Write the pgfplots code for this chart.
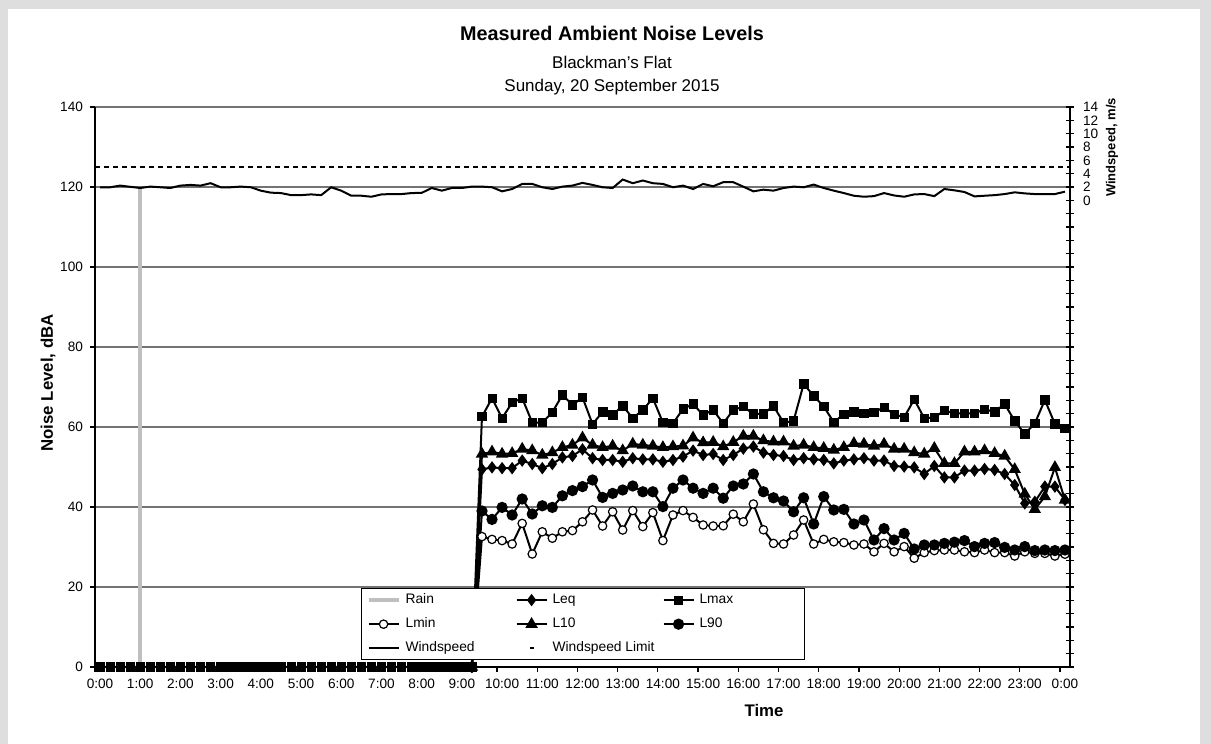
\documentclass[border=0pt]{standalone}
\usepackage{pgfplots}
\pgfplotsset{compat=1.18}
\usepackage{pgfplotstable}
\usepackage{fontspec}
\setmainfont{Liberation Sans}

\pgfplotstableread{
h Lmax L10 Leq L90 Lmin
0 0 0 0 0 0
0.25 0 0 0 0 0
0.5 0 0 0 0 0
0.75 0 0 0 0 0
1 0 0 0 0 0
1.25 0 0 0 0 0
1.5 0 0 0 0 0
1.75 0 0 0 0 0
2 0 0 0 0 0
2.25 0 0 0 0 0
2.5 0 0 0 0 0
2.75 0 0 0 0 0
3 0 0 0 0 0
3.25 0 0 0 0 0
3.5 0 0 0 0 0
3.75 0 0 0 0 0
4 0 0 0 0 0
4.25 0 0 0 0 0
4.5 0 0 0 0 0
4.75 0 0 0 0 0
5 0 0 0 0 0
5.25 0 0 0 0 0
5.5 0 0 0 0 0
5.75 0 0 0 0 0
6 0 0 0 0 0
6.25 0 0 0 0 0
6.5 0 0 0 0 0
6.75 0 0 0 0 0
7 0 0 0 0 0
7.25 0 0 0 0 0
7.5 0 0 0 0 0
7.75 0 0 0 0 0
8 0 0 0 0 0
8.25 0 0 0 0 0
8.5 0 0 0 0 0
8.75 0 0 0 0 0
9 0 0 0 0 0
9.25 0 0 0 0 0
9.5 62.6 53.25 49.4 39.0 32.6
9.75 67.2 53.8 49.9 36.9 31.9
10.0 62.2 53.25 49.7 39.9 31.6
10.25 66.1 53.4 49.7 38.0 30.75
10.5 67.2 54.5 51.6 42.0 35.9
10.75 61.1 54.1 50.75 38.25 28.25
11.0 61.1 53.0 49.7 40.3 33.8
11.25 63.7 53.6 50.75 39.9 32.2
11.5 68.0 54.9 52.4 42.8 33.8
11.75 65.5 55.5 52.75 44.1 34.1
12.0 67.4 57.3 54.4 45.1 36.3
12.25 60.7 55.5 52.2 46.75 39.25
12.5 63.8 54.9 51.75 42.4 35.25
12.75 63.0 55.25 51.75 43.4 38.8
13.0 65.3 54.1 51.3 44.25 34.25
13.25 62.2 55.75 52.2 45.25 39.1
13.5 64.25 55.5 51.9 43.8 35.1
13.75 67.2 55.25 51.9 43.8 38.6
14.0 61.1 54.9 51.3 40.1 31.6
14.25 60.9 55.1 51.75 44.7 38.0
14.5 64.5 55.3 52.6 46.75 39.1
14.75 65.75 57.3 54.1 44.7 37.4
15.0 63.0 56.1 53.0 43.4 35.5
15.25 64.25 56.2 53.25 44.7 35.25
15.5 60.9 55.1 51.75 42.2 35.3
15.75 64.25 56.2 53.0 45.25 38.2
16.0 65.1 57.75 54.6 45.75 36.3
16.25 63.25 57.75 55.1 48.25 40.75
16.5 63.3 56.6 53.6 43.8 34.3
16.75 65.25 56.3 53.0 42.3 30.9
17.0 61.1 56.3 52.75 41.5 30.75
17.25 61.5 55.25 51.75 38.8 33.0
17.5 70.75 55.5 52.2 42.3 36.75
17.75 67.8 54.9 51.9 35.75 30.75
18.0 65.1 54.7 51.75 42.6 31.9
18.25 61.2 54.25 50.9 39.25 31.3
18.5 63.2 54.9 51.6 39.4 31.1
18.75 63.8 55.9 51.9 35.75 30.5
19.0 63.4 55.75 52.2 36.75 30.75
19.25 63.7 55.25 51.6 31.75 28.8
19.5 64.9 55.75 51.6 34.6 30.9
19.75 63.2 54.5 50.25 31.75 28.8
20.0 62.4 54.5 50.1 33.4 30.1
20.25 66.9 53.6 49.9 29.5 27.2
20.5 62.2 53.25 48.25 30.5 28.6
20.75 62.4 54.7 50.25 30.5 29.1
21.0 64.1 50.9 47.4 30.9 29.25
21.25 63.4 50.9 47.4 31.2 29.25
21.5 63.4 53.8 49.1 31.6 28.8
21.75 63.4 53.8 49.1 30.1 28.6
22.0 64.4 54.1 49.5 30.9 29.25
22.25 63.8 53.4 49.25 31.1 28.6
22.5 65.75 52.75 48.25 29.9 28.6
22.75 61.5 49.4 45.5 29.25 27.75
23.0 58.25 43.25 40.9 30.1 28.8
23.25 60.9 39.4 41.3 29.1 28.4
23.5 66.75 42.6 45.1 29.25 28.4
23.75 60.75 49.9 45.1 29.1 27.75
24.0 59.7 41.75 41.75 29.25 28.2
}\noise

\pgfplotstableread{
h w
0 1.96
0.25 1.96
0.5 2.21
0.75 2.03
1.0 1.85
1.25 2.06
1.5 1.96
1.75 1.85
2.0 2.21
2.25 2.31
2.5 2.21
2.75 2.57
3.0 1.96
3.25 1.96
3.5 2.06
3.75 1.96
4.0 1.45
4.25 1.15
4.5 1.09
4.75 0.78
5.0 0.78
5.25 0.89
5.5 0.78
5.75 1.96
6.0 1.45
6.25 0.69
6.5 0.69
6.75 0.54
7.0 0.89
7.25 0.94
7.5 0.94
7.75 1.09
8.0 1.12
8.25 1.85
8.5 1.45
8.75 1.85
9.0 1.85
9.25 2.06
9.5 2.06
9.75 1.96
10.0 1.35
10.25 1.70
10.5 2.46
10.75 2.46
11.0 1.96
11.25 1.70
11.5 2.06
11.75 2.21
12.0 2.62
12.25 2.31
12.5 1.96
12.75 1.85
13.0 3.12
13.25 2.57
13.5 2.97
13.75 2.57
14.0 2.46
14.25 1.96
14.5 2.21
14.75 1.70
15.0 2.46
15.25 2.11
15.5 2.72
15.75 2.72
16.0 2.05
16.25 1.35
16.5 1.60
16.75 1.45
17.0 1.85
17.25 2.06
17.5 1.96
17.75 2.36
18.0 1.85
18.25 1.45
18.5 1.09
18.75 0.69
19.0 0.54
19.25 0.63
19.5 1.09
19.75 0.73
20.0 0.54
20.25 0.89
20.5 0.94
20.75 0.63
21.0 1.70
21.25 1.50
21.5 1.25
21.75 0.59
22.0 0.69
22.25 0.78
22.5 0.94
22.75 1.20
23.0 1.04
23.25 0.94
23.5 0.94
23.75 0.94
24.0 1.30
}\wind

\begin{document}
\begin{tikzpicture}
\fill[black!13] (0,0) rectangle (605.5pt,372pt);
\fill[white] (4pt,0) rectangle (600pt,367.5pt);

\node[font=\bfseries\fontsize{9.9}{12}\selectfont] at (306pt,355.5pt) {Measured Ambient Noise Levels};
\node[font=\fontsize{8.5}{10}\selectfont] at (306pt,341pt) {Blackman's Flat};
\node[font=\fontsize{8.5}{10}\selectfont] at (306pt,328.5pt) {Sunday, 20 September 2015};
\node[font=\bfseries\fontsize{8.4}{10}\selectfont, rotate=90] at (24pt,180.5pt) {Noise Level, dBA};
\node[font=\bfseries\fontsize{8.4}{10}\selectfont] at (382pt,17pt) {Time};
\node[font=\bfseries\fontsize{6.5}{8}\selectfont, rotate=90] at (556pt,298.25pt) {Windspeed, m/s};

\begin{axis}[
  scale only axis, width=487.5pt, height=280pt,
  at={(47.5pt,38.5pt)}, anchor=south west,
  xmin=-0.125, xmax=24.125, ymin=0, ymax=140,
  axis x line*=bottom, axis y line*=left,
  ytick={0,20,...,140},
  ymajorgrids, grid style={black!55, line width=0.6pt},
  xtick={-0.125,0.875,...,23.875},
  xticklabels={0:00,1:00,2:00,3:00,4:00,5:00,6:00,7:00,8:00,9:00,10:00,11:00,12:00,13:00,14:00,15:00,16:00,17:00,18:00,19:00,20:00,21:00,22:00,23:00,0:00},
  xticklabel style={xshift=2.5pt},
  tick align=outside, major tick length=2.5pt,
  tick style={black, line width=0.6pt},
  axis line style={black, line width=0.6pt},
  ticklabel style={font=\fontsize{6.8}{8}\selectfont},
  /pgf/number format/assume math mode=true,
  clip=false,
  legend columns=3,
  legend cell align=left,
  legend style={
    at={(0.2728,0.1411)}, anchor=north west,
    draw=black, line width=0.6pt, fill=white,
    font=\fontsize{6.9}{8}\selectfont,
    inner xsep=2.5pt, inner ysep=2.6pt,
    row sep=5.75pt,
    nodes={inner sep=0pt, text height=5pt, text depth=1.3pt},
    /tikz/every odd column/.append style={column sep=2.5pt},
    /tikz/every even column/.append style={column sep=5pt},
  },
  legend image code/.code={\draw[mark repeat=2,mark phase=2,#1] plot coordinates {(0pt,0pt) (7.5pt,0pt) (15pt,0pt)};},
]
\addlegendimage{legend image code/.code={\draw[black!25, line width=2pt] (0pt,0pt) -- (15pt,0pt);}}
\addlegendentry{\makebox[50pt][l]{Rain}}
\addlegendimage{black, line width=1pt, mark=diamond*, mark size=2.3pt}
\addlegendentry{\makebox[50pt][l]{Leq}}
\addlegendimage{black, line width=1pt, mark=square*, mark size=2.1pt, mark options={line width=0.3pt}}
\addlegendentry{\makebox[50pt][l]{Lmax}}
\addlegendimage{black, line width=1pt, mark=*, mark size=2.1pt, mark options={fill=white, line width=0.6pt}}
\addlegendentry{\makebox[50pt][l]{Lmin}}
\addlegendimage{black, line width=1pt, mark=triangle*, mark size=2.6pt}
\addlegendentry{\makebox[50pt][l]{L10}}
\addlegendimage{black, line width=1pt, mark=*, mark size=2.3pt}
\addlegendentry{\makebox[50pt][l]{L90}}
\addlegendimage{black, line width=1pt}
\addlegendentry{\makebox[50pt][l]{Windspeed}}
\addlegendimage{legend image code/.code={\draw[black, line width=1.1pt] (6.5pt,0pt) -- (8.5pt,0pt);}}
\addlegendentry{\makebox[50pt][l]{Windspeed Limit}}

\addplot[black!25, line width=1.8pt, forget plot] coordinates {(1,0) (1,120)};
\addplot[black, line width=1pt, mark=diamond*, mark size=2.3pt, forget plot, restrict x to domain=9.2:25] table[x=h,y=Leq] {\noise};
\addplot[black, line width=1pt, mark=*, mark size=2.1pt, mark options={fill=white, line width=0.6pt}, forget plot, restrict x to domain=9.2:25] table[x=h,y=Lmin] {\noise};
\addplot[black, line width=1pt, mark=triangle*, mark size=2.6pt, forget plot, restrict x to domain=9.2:25] table[x=h,y=L10] {\noise};
\addplot[black, line width=1pt, mark=*, mark size=2.3pt, forget plot, restrict x to domain=9.2:25] table[x=h,y=L90] {\noise};
\addplot[black, line width=1pt, mark=square*, mark size=2.1pt, mark options={line width=0.3pt}, forget plot] table[x=h,y=Lmax] {\noise};
\end{axis}

\begin{axis}[
  scale only axis, width=487.5pt, height=280pt,
  at={(47.5pt,38.5pt)}, anchor=south west,
  xmin=-0.125, xmax=24.125, ymin=-70, ymax=14,
  axis x line=none, axis y line*=right,
  ytick={0,2,...,14}, minor ytick={-70,-68,...,-2},
  tick align=center, major tick length=4pt, minor tick length=4pt,
  tick style={black, line width=0.6pt},
  axis line style={black, line width=0.6pt},
  yticklabel style={font=\fontsize{6.8}{8}\selectfont, xshift=1pt},
  /pgf/number format/assume math mode=true,
  clip=false,
]
\addplot[black, line width=1pt] table[x=h,y=w] {\wind};
\addplot[black, line width=1pt, dash pattern=on 2.5pt off 2pt] coordinates {(-0.125,5) (24.125,5)};
\end{axis}
\pgfresetboundingbox
\path (0,0) rectangle (605.5pt,372pt);
\end{tikzpicture}
\end{document}
